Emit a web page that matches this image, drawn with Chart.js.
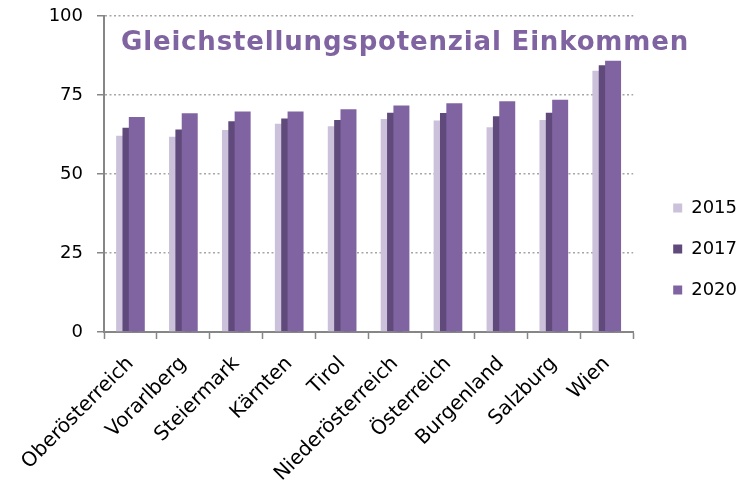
<!DOCTYPE html>
<html>
<head>
<meta charset="utf-8">
<script src="https://cdn.jsdelivr.net/npm/chart.js@4/dist/chart.umd.min.js"></script>
<style>
  html, body { margin: 0; padding: 0; background: #fff; }
</style>
</head>
<body>
<canvas id="grafica" width="742" height="482"></canvas>
<script>
// Daten
const bundeslaender = ['Oberösterreich', 'Vorarlberg', 'Steiermark', 'Kärnten', 'Tirol',
  'Niederösterreich', 'Österreich', 'Burgenland', 'Salzburg', 'Wien'];
const werte2015 = [62.1, 61.8, 63.9, 65.9, 65.1, 67.4, 66.9, 64.8, 67.1, 82.7];
const werte2017 = [64.6, 64.1, 66.7, 67.6, 67.1, 69.4, 69.3, 68.3, 69.4, 84.4];
const werte2020 = [68.0, 69.2, 69.8, 69.8, 70.5, 71.7, 72.4, 73.0, 73.5, 85.8];
const yTicks = [0, 25, 50, 75, 100];
const titel = 'Gleichstellungspotenzial Einkommen';

const schrift = '"DejaVu Sans", sans-serif';
const achsenGrau = '#868686';

// jede Serie bekommt eine eigene unsichtbare x-Achse, leicht verschoben -> ueberlappende Balken wie in Excel
function versteckteAchse(verschiebung) {
  return {
    type: 'linear',
    display: false,
    offset: false,
    min: -0.5 - verschiebung,
    max: bundeslaender.length - 0.5 - verschiebung
  };
}

function serie(jahr, werte, farbe, achse, reihenfolge) {
  return {
    label: jahr,
    data: werte.map((y, i) => ({ x: i, y: y })),
    backgroundColor: farbe,
    borderWidth: 0,
    grouped: false,
    categoryPercentage: 1,
    barPercentage: 0.302,
    xAxisID: achse,
    order: reihenfolge
  };
}

//Titel im Diagramm
const titelPlugin = {
  id: 'titelPlugin',
  afterDraw(chart) {
    const ctx = chart.ctx;
    ctx.save();
    ctx.font = 'bold 26px ' + schrift;
    ctx.fillStyle = '#8064A2';
    ctx.textBaseline = 'alphabetic';
    const breite = ctx.measureText(titel).width;
    const ziel = 568;
    if ('letterSpacing' in ctx && breite < ziel) {
      ctx.letterSpacing = ((ziel - breite) / titel.length).toFixed(2) + 'px';
    }
    ctx.fillText(titel, chart.chartArea.left + 17, chart.chartArea.top + 34);
    ctx.restore();
  }
};

//Legende etwas nach rechts schieben (und Clip-Bereich mitnehmen)
const legendenPlugin = {
  id: 'legendenPlugin',
  afterLayout(chart) {
    chart.legend.left += 17;
    chart.legend.right = chart.width;
    chart.legend.width = chart.legend.right - chart.legend.left;
  }
};

new Chart(document.getElementById('grafica'), {
  type: 'bar',
  data: {
    labels: bundeslaender,
    datasets: [
      serie('2015', werte2015, '#CCC1DA', 'xa', 3),
      serie('2017', werte2017, '#604A7B', 'xb', 2),
      serie('2020', werte2020, '#8064A2', 'xc', 1)
    ]
  },
  options: {
    responsive: false,
    animation: false,
    layout: { padding: { top: 16, left: 0, right: 12, bottom: 0 } },
    plugins: {
      title: { display: false },
      tooltip: { enabled: false },
      legend: {
        position: 'right',
        labels: {
          boxWidth: 9,
          boxHeight: 9,
          padding: 23,
          color: '#000',
          font: { family: schrift, size: 18 },
          sort: (a, b) => a.datasetIndex - b.datasetIndex
        }
      }
    },
    scales: {
      xa: versteckteAchse(-0.12),
      xb: versteckteAchse(0),
      xc: versteckteAchse(0.12),
      x: {
        type: 'category',
        position: 'bottom',
        offset: true,
        grid: {
          offset: true,
          drawOnChartArea: false,
          drawTicks: true,
          tickLength: 7,
          tickColor: achsenGrau,
          tickWidth: 1.5
        },
        border: { display: true, color: achsenGrau, width: 2 },
        ticks: {
          autoSkip: false,
          minRotation: 45,
          maxRotation: 45,
          padding: 13,
          color: '#000',
          font: { family: schrift, size: 20 }
        },
        afterFit(s) { s.height = 150; }
      },
      y: {
        min: 0,
        max: 100,
        afterBuildTicks(s) { s.ticks = yTicks.map(v => ({ value: v })); },
        ticks: {
          padding: 14,
          color: '#000',
          font: { family: schrift, size: 18 }
        },
        grid: {
          color: '#A6A6A6',
          lineWidth: 1.5,
          tickLength: 7,
          tickColor: achsenGrau,
          tickWidth: 1.5
        },
        border: { display: true, color: achsenGrau, width: 2, dash: [2, 2.5] },
        afterFit(s) {
          s.width = 104;
          s.paddingTop = 0;
        }
      }
    }
  },
  plugins: [titelPlugin, legendenPlugin]
});
</script>
</body>
</html>
